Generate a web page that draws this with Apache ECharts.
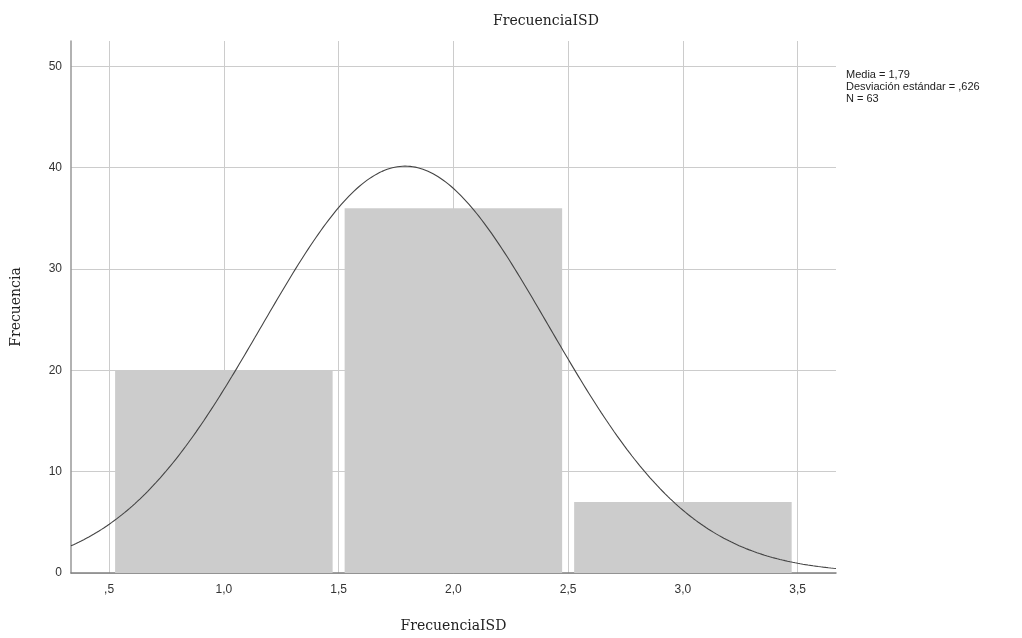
<!DOCTYPE html>
<html>
<head>
<meta charset="utf-8">
<script src="https://cdn.jsdelivr.net/npm/echarts@6/dist/echarts.min.js"></script>
<style>
html,body{margin:0;padding:0;background:#fff;}
#chart{width:1022px;height:638px;}
</style>
</head>
<body>
<div id="chart"></div>
<script>
// Histogram bins (lower edge, upper edge) and counts
var binStarts = [0.5, 1.5, 2.5];
var binEnds = [1.5, 2.5, 3.5];
var counts = [20, 36, 7];
// Statistics shown in the annotation (used for the normal curve)
var mean = 1.79;
var sd = 0.626;
var n = 63;
var binWidth = 1;
// Axis ticks and labels
var xTicks = [0.5, 1.0, 1.5, 2.0, 2.5, 3.0, 3.5];
var xTickLabels = [',5', '1,0', '1,5', '2,0', '2,5', '3,0', '3,5'];
var yTicks = [0, 10, 20, 30, 40, 50];
var titleText = 'FrecuenciaISD';
var xName = 'FrecuenciaISD';
var yName = 'Frecuencia';
var statsLines = ['Media = 1,79', 'Desviación estándar = ,626', 'N = 63'];

var xMin = 0.334, xMax = 3.667, yMax = 52.5;

var barData = binStarts.map(function (s, i) { return [s, binEnds[i], counts[i]]; });

// Normal curve defined by the displayed mean, sd and N
var curve = [];
var steps = 300;
for (var i = 0; i <= steps; i++) {
  var x = xMin + (xMax - xMin) * i / steps;
  var z = (x - mean) / sd;
  var y = n * binWidth / (sd * Math.sqrt(2 * Math.PI)) * Math.exp(-0.5 * z * z);
  curve.push([x, y]);
}

var chart = echarts.init(document.getElementById('chart'));
chart.setOption({
  animation: false,
  backgroundColor: '#ffffff',
  grid: { left: 71, right: 186, top: 41, bottom: 60, containLabel: false },
  xAxis: {
    type: 'value',
    min: xMin,
    max: xMax,
    name: xName,
    nameLocation: 'middle',
    nameGap: 46,
    nameTextStyle: { fontFamily: 'DejaVu Serif', fontSize: 14, color: '#222' },
    axisLine: { show: true, onZero: false, lineStyle: { color: '#808080', width: 1.5 } },
    axisTick: { show: false, customValues: xTicks },
    axisLabel: {
      customValues: xTicks,
      margin: 11,
      fontFamily: 'Liberation Sans',
      fontSize: 12,
      color: '#333',
      formatter: function (v) {
        for (var k = 0; k < xTicks.length; k++) {
          if (Math.abs(xTicks[k] - v) < 1e-6) return xTickLabels[k];
        }
        return '';
      }
    },
    splitLine: { show: true, lineStyle: { color: '#cccccc', width: 1 } }
  },
  yAxis: {
    type: 'value',
    min: 0,
    max: yMax,
    name: yName,
    nameLocation: 'middle',
    nameGap: 48,
    nameRotate: 90,
    nameTextStyle: { fontFamily: 'DejaVu Serif', fontSize: 14, color: '#222' },
    axisLine: { show: true, lineStyle: { color: '#999999', width: 1.5 } },
    axisTick: { show: false, customValues: yTicks },
    axisLabel: {
      customValues: yTicks,
      margin: 9,
      fontFamily: 'Liberation Sans',
      fontSize: 12,
      color: '#333'
    },
    splitLine: { show: true, lineStyle: { color: '#cccccc', width: 1 } }
  },
  graphic: [
    {
      type: 'text',
      left: 493,
      top: 14,
      style: { text: titleText, font: '14px "DejaVu Serif"', fill: '#222' }
    },
    {
      type: 'text',
      left: 846,
      top: 69,
      style: {
        text: statsLines.join('\n'),
        font: '11px "Liberation Sans"',
        lineHeight: 12,
        fill: '#222'
      }
    }
  ],
  series: [
    {
      type: 'custom',
      z: 2,
      data: barData,
      encode: { x: [0, 1], y: 2 },
      renderItem: function (params, api) {
        var p0 = api.coord([api.value(0), api.value(2)]);
        var p1 = api.coord([api.value(1), 0]);
        var inset = 6;
        return {
          type: 'rect',
          shape: { x: p0[0] + inset, y: p0[1], width: p1[0] - p0[0] - 2 * inset, height: p1[1] - p0[1] },
          style: { fill: '#cccccc' }
        };
      }
    },
    {
      type: 'line',
      z: 3,
      data: curve,
      showSymbol: false,
      symbol: 'none',
      smooth: false,
      lineStyle: { color: '#444444', width: 1.1 },
      clip: true
    }
  ]
});
</script>
</body>
</html>
